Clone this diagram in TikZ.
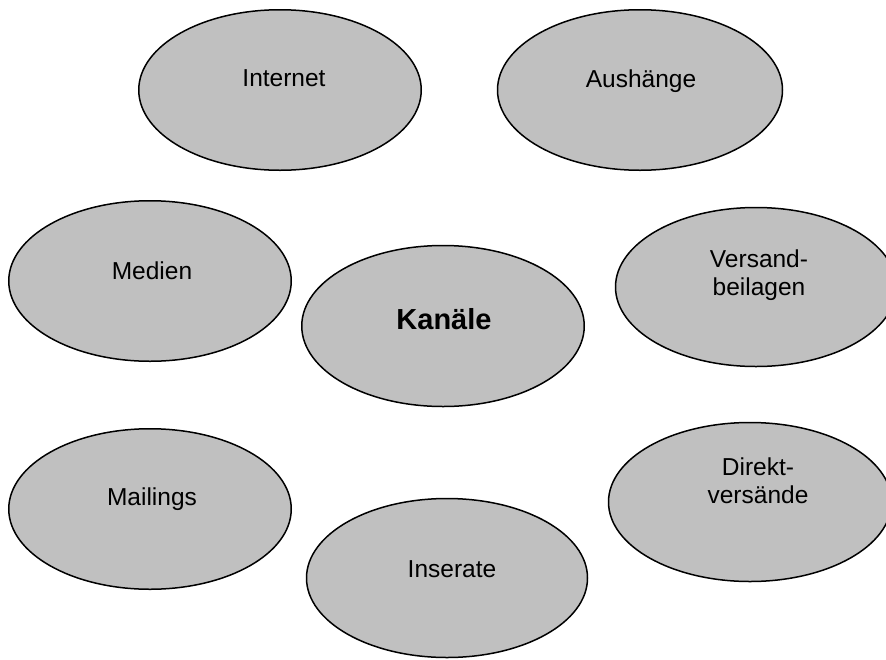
\documentclass[tikz,border=0pt]{standalone}
\usepackage{fontspec}
\setmainfont{Liberation Sans}
\usetikzlibrary{shapes.geometric}
\definecolor{ovalfill}{RGB}{192,192,192}
\tikzset{
  oval/.style n args={2}{ellipse, draw=black, line width=1.5pt, fill=ovalfill,
    inner sep=0pt, minimum width=#1pt, minimum height=#2pt},
  lbl/.style={anchor=base, align=center, inner sep=0pt,
    font=\fontsize{24.5}{27.5}\selectfont},
  lblbold/.style={anchor=base, align=center, inner sep=0pt,
    font=\fontsize{29}{32}\selectfont\bfseries}
}
\begin{document}
\begin{tikzpicture}[x=1pt,y=-1pt]
\useasboundingbox (0,0) rectangle (886,659);
\begin{scope}
\clip (0,0) rectangle (886,659);
\node[oval={282.5}{160.5}] (internet) at (280,90) {};
\node[oval={285}{160.5}] (aushaenge) at (640,90) {};
\node[oval={282.5}{160.5}] (medien) at (150,281) {};
\node[oval={282.5}{161}] (kanaele) at (443,326) {};
\node[oval={281}{159}] (versand) at (756,287) {};
\node[oval={282.5}{160.5}] (mailings) at (150,509) {};
\node[oval={283}{159}] (direkt) at (750,502) {};
\node[oval={281}{159}] (inserate) at (447,578) {};
\end{scope}
\node[lbl] (internet-t) at (284,86.7) {Internet};
\node[lbl] (aushaenge-t) at (641,87) {Aushänge};
\node[lbl] (medien-t) at (152,279) {Medien};
\node[lblbold] (kanaele-t) at (444,329) {Kanäle};
\node[lbl] (versand-t) at (759,295) {Versand-\\beilagen};
\node[lbl] (mailings-t) at (152,505) {Mailings};
\node[lbl] (direkt-t) at (758,503) {Direkt-\\versände};
\node[lbl] (inserate-t) at (452,577) {Inserate};
\end{tikzpicture}
\end{document}
